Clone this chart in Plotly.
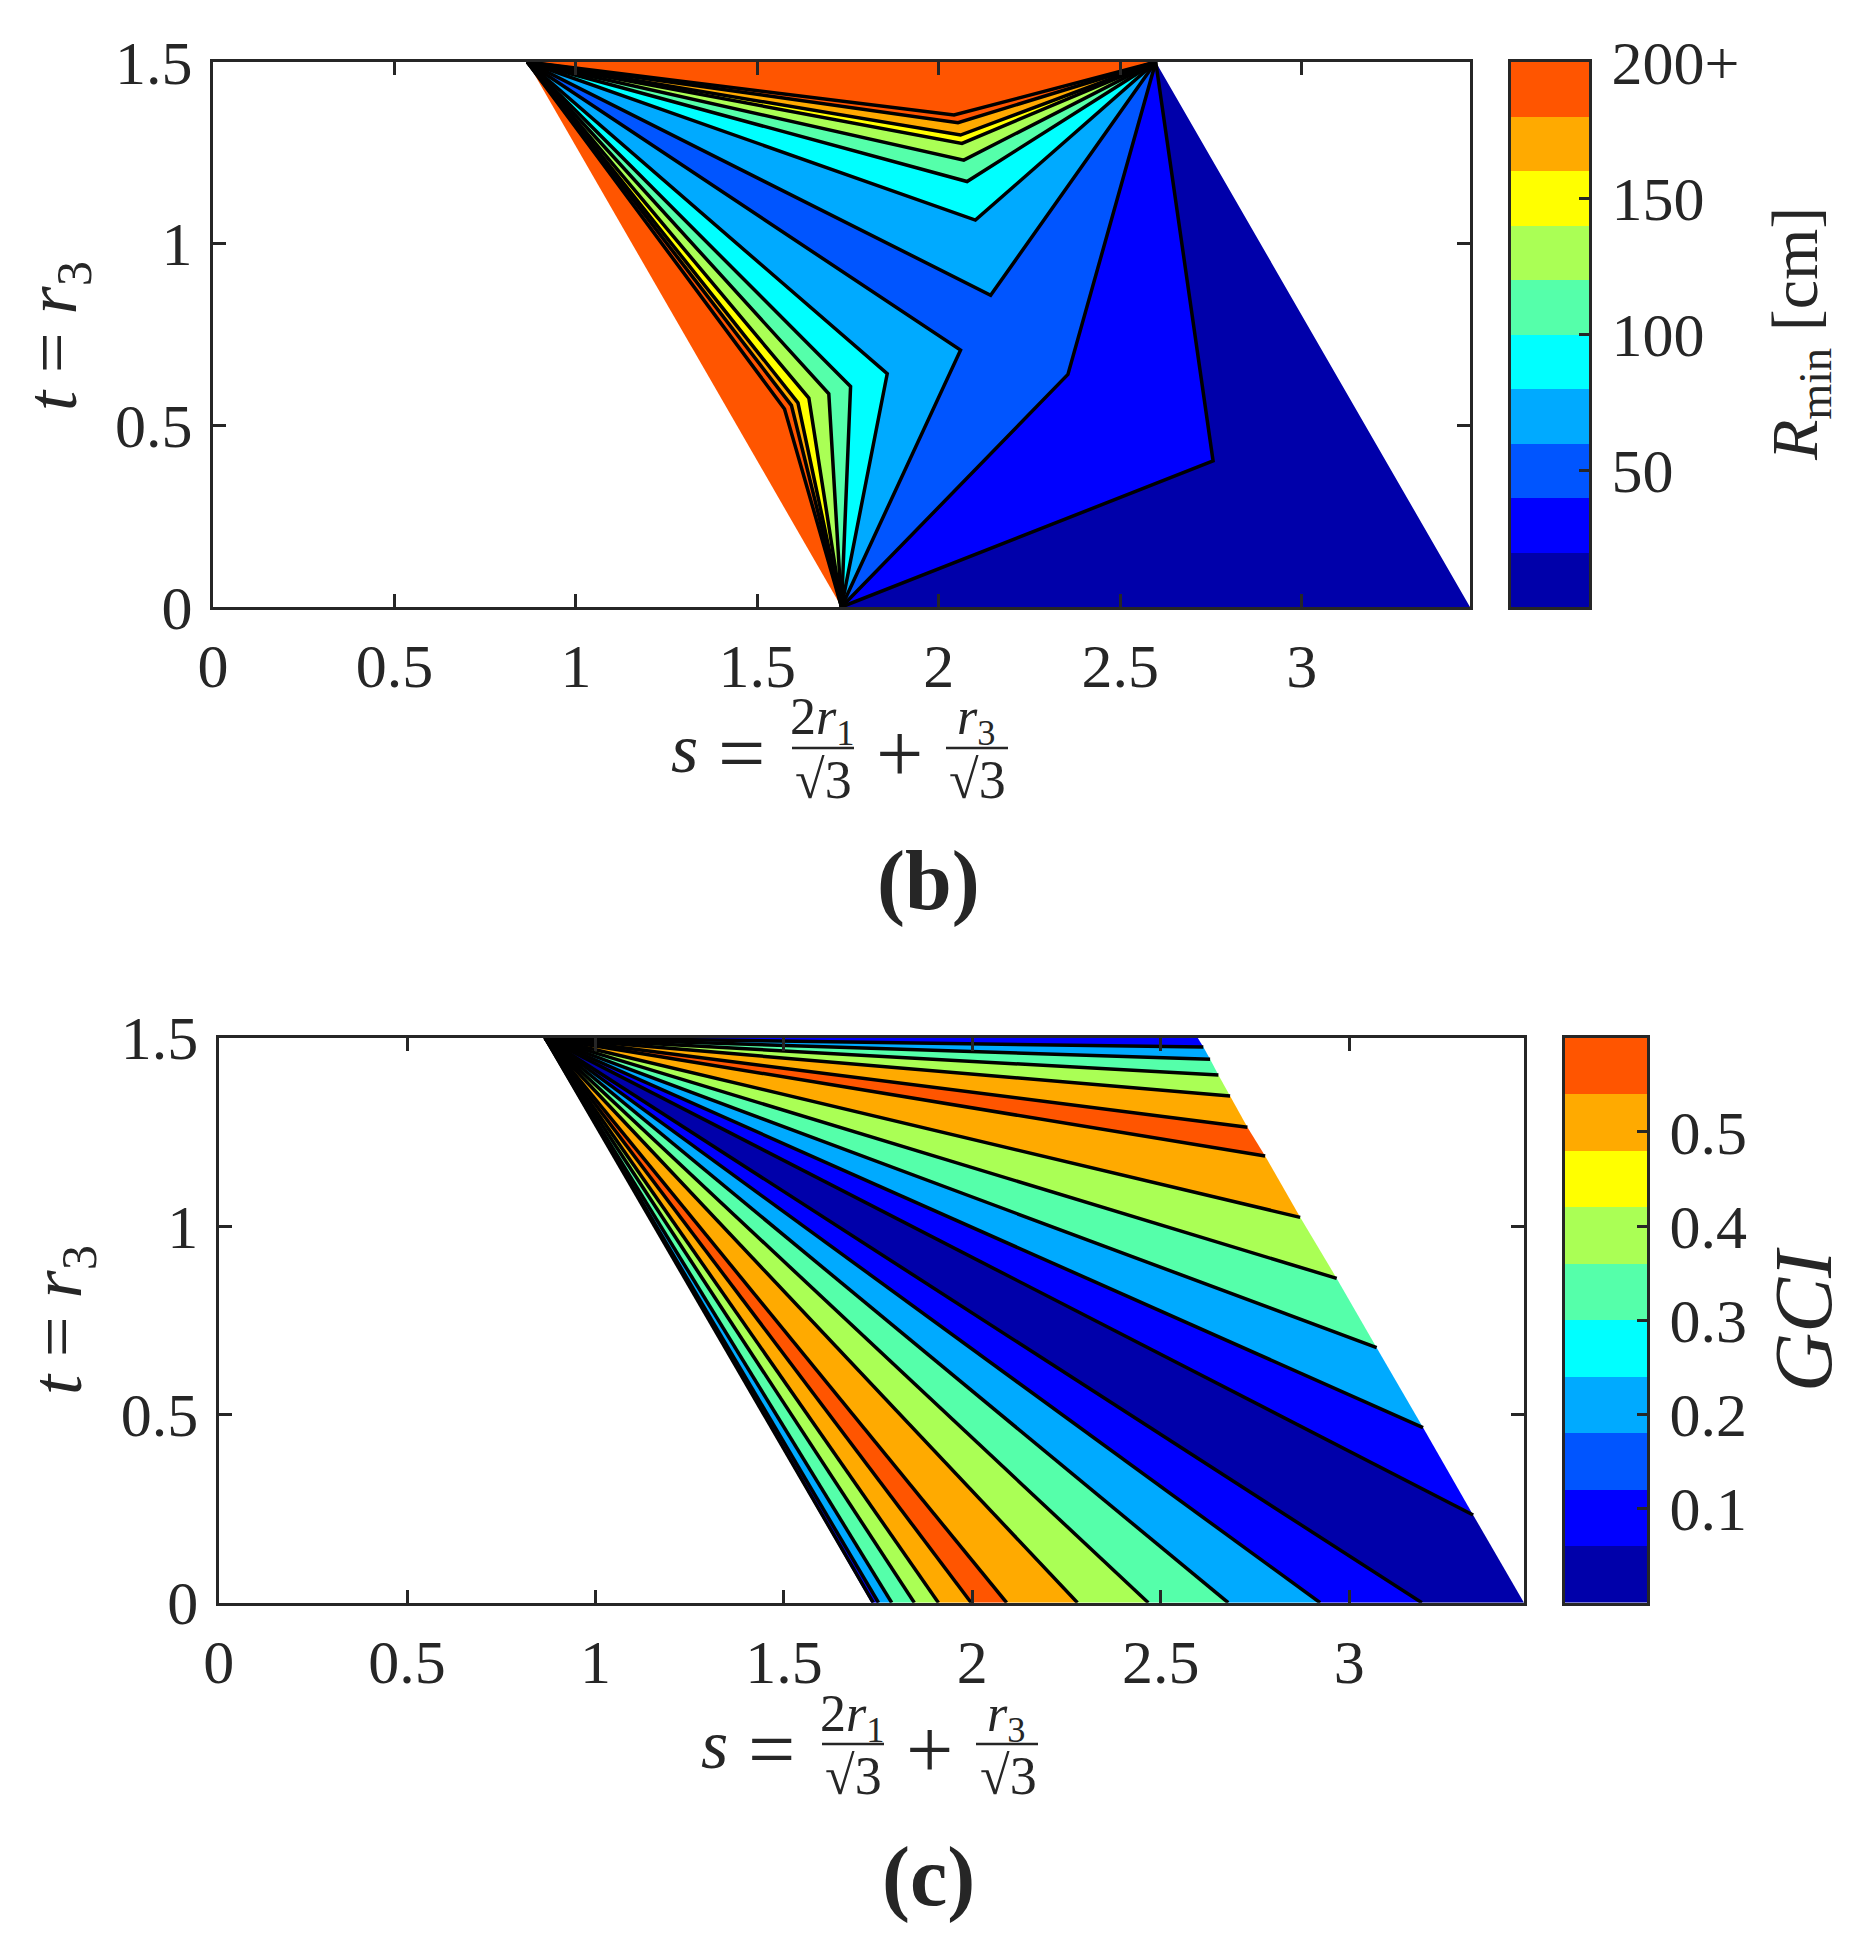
import plotly.graph_objects as go

# page body keeps its default 8px margin, so the figure is drawn 8px in
OFF = 8
W, H = 1862 - OFF, 1946 - OFF
FONT = "Liberation Serif"
INK = "#262626"

# MATLAB jet(10) colormap used by both panels
JET10 = ["#0000AA", "#0000FF", "#0055FF", "#00AAFF", "#00FFFF",
         "#55FFAA", "#AAFF55", "#FFFF00", "#FFAA00", "#FF5500"]

# ---------------- Panel (b): R_min [cm] ----------------
b_range = [0, 200]
b_cbar_levels = [0, 20, 40, 60, 80, 100, 120, 140, 160, 180, 200]
b_cbar_ticks = [50, 100, 150, 200]
b_cbar_text = ["50", "100", "150", "200+"]

# vertices of the (s, t) domain
b_A = (0.866, 1.5)   # top-left apex
b_B = (2.598, 1.5)   # top-right apex
b_C = (1.732, 0.0)   # bottom apex
b_D = (3.464, 0.0)   # bottom-right corner

# contour lines A -> bend -> B
b_up_levels = [60, 80, 100, 120, 140, 160, 180, 200]
b_up_s = [2.143, 2.101, 2.078, 2.069, 2.064, 2.060, 2.053, 2.042]
b_up_t = [0.858, 1.065, 1.171, 1.230, 1.276, 1.299, 1.333, 1.354]
# contour lines A -> bend -> C
b_left_levels = [60, 80, 100, 120, 140, 160, 180, 200]
b_left_s = [2.060, 1.858, 1.757, 1.697, 1.642, 1.612, 1.594, 1.575]
b_left_t = [0.707, 0.642, 0.607, 0.587, 0.575, 0.562, 0.555, 0.545]
# contour lines C -> bend -> B
b_right_levels = [20, 40]
b_right_s = [2.756, 2.356]
b_right_t = [0.402, 0.640]

# ---------------- Panel (c): GCI ----------------
c_range = [0, 0.6]
c_cbar_levels = [0.0, 0.06, 0.12, 0.18, 0.24, 0.30, 0.36, 0.42, 0.48, 0.54, 0.60]
c_cbar_ticks = [0.1, 0.2, 0.3, 0.4, 0.5]
c_cbar_text = ["0.1", "0.2", "0.3", "0.4", "0.5"]

c_A = (0.866, 1.5)   # apex where all contour lines meet
c_C = (1.732, 0.0)
c_D = (3.464, 0.0)
c_B = (2.598, 1.5)
# end points of the contour lines on the bottom edge (t = 0)
c_bottom_s = [1.737, 1.751, 1.786, 1.846, 1.910, 1.997, 2.091, 2.279,
              2.467, 2.679, 2.923, 3.193]
# end points of the contour lines on the right edge
c_right_s = [3.329, 3.196, 3.073, 2.967, 2.870, 2.777, 2.730, 2.684,
             2.653, 2.631, 2.613]
c_right_t = [0.233, 0.465, 0.677, 0.861, 1.023, 1.186, 1.262, 1.345,
             1.401, 1.443, 1.475]
# lower contour level of each filled band, in boundary order
c_band_gci = [0.0, 0.1, 0.2, 0.3, 0.4, 0.5, 0.6, 0.5, 0.4, 0.3, 0.2, 0.1,
              0.0, 0.1, 0.2, 0.3, 0.4, 0.5, 0.6, 0.5, 0.4, 0.3, 0.2, 0.1]

s_ticks = [0, 0.5, 1, 1.5, 2, 2.5, 3]
s_tick_text = ["0", "0.5", "1", "1.5", "2", "2.5", "3"]
t_ticks = [0, 0.5, 1, 1.5]
t_tick_text = ["0", "0.5", "1", "1.5"]


def band_color(v, rng):
    idx = int((v - rng[0]) / (rng[1] - rng[0]) * len(JET10) + 1e-9)
    return JET10[max(0, min(len(JET10) - 1, idx))]


def discrete_scale():
    n = len(JET10)
    scale = []
    for i, c in enumerate(JET10):
        scale.append([i / n, c])
        scale.append([(i + 1) / n, c])
    return scale


def px_x(px):
    return (px - OFF) / W


def px_y(py):
    return 1 - (py - OFF) / H


fig = go.Figure()


def add_fill(points, color, xa, ya):
    xs = [p[0] for p in points] + [points[0][0]]
    ys = [p[1] for p in points] + [points[0][1]]
    fig.add_trace(go.Scatter(x=xs, y=ys, mode="lines", fill="toself",
                             fillcolor=color, line=dict(width=0, color=color),
                             hoverinfo="skip", showlegend=False,
                             xaxis=xa, yaxis=ya))


def add_line(points, xa, ya):
    fig.add_trace(go.Scatter(x=[p[0] for p in points], y=[p[1] for p in points],
                             mode="lines", line=dict(color="black", width=3.5),
                             hoverinfo="skip", showlegend=False,
                             xaxis=xa, yaxis=ya))


# ----- panel (b) regions -----
U = {lv: (s, t) for lv, s, t in zip(b_up_levels, b_up_s, b_up_t)}
L = {lv: (s, t) for lv, s, t in zip(b_left_levels, b_left_s, b_left_t)}
R = {lv: (s, t) for lv, s, t in zip(b_right_levels, b_right_s, b_right_t)}
lv_lo, lv_mid = b_right_levels
first_up = b_up_levels[0]

b_regions = []
b_regions.append((0, [b_C, b_D, b_B, R[lv_lo]]))
b_regions.append((lv_lo, [b_C, R[lv_lo], b_B, R[lv_mid]]))
b_regions.append((lv_mid, [b_C, R[lv_mid], b_B, U[first_up], b_A, L[first_up]]))
for lo, hi in zip(b_up_levels[:-1], b_up_levels[1:]):
    b_regions.append((lo, [b_A, U[lo], b_B, U[hi]]))
for lo, hi in zip(b_left_levels[:-1], b_left_levels[1:]):
    b_regions.append((lo, [b_A, L[lo], b_C, L[hi]]))
b_regions.append((b_up_levels[-1], [b_A, U[b_up_levels[-1]], b_B]))
b_regions.append((b_left_levels[-1], [b_A, L[b_left_levels[-1]], b_C]))

for val, pts in b_regions:
    add_fill(pts, band_color(val, b_range), "x", "y")
for lv in b_up_levels:
    add_line([b_A, U[lv], b_B], "x", "y")
for lv in b_left_levels:
    add_line([b_A, L[lv], b_C], "x", "y")
for lv in b_right_levels:
    add_line([b_C, R[lv], b_B], "x", "y")

# ----- panel (c) regions -----
bottom_pts = [(s, 0.0) for s in c_bottom_s]
right_pts = list(zip(c_right_s, c_right_t))
boundary = [c_C] + bottom_pts + [c_D] + right_pts + [c_B]
ray_idx = list(range(1, 1 + len(bottom_pts))) + \
    list(range(2 + len(bottom_pts), 2 + len(bottom_pts) + len(right_pts)))
cuts = [0] + ray_idx + [len(boundary) - 1]
for i, val in enumerate(c_band_gci):
    pts = [c_A] + boundary[cuts[i]:cuts[i + 1] + 1]
    add_fill(pts, band_color(val, c_range), "x2", "y2")
for k in ray_idx:
    add_line([c_A, boundary[k]], "x2", "y2")


# ----- colorbars drawn as one-column heatmaps -----
def add_cbar(levels, rng, xa, ya):
    centers = [(a + b) / 2 for a, b in zip(levels[:-1], levels[1:])]
    fig.add_trace(go.Heatmap(x=[0.5], y=centers, z=[[c] for c in centers],
                             colorscale=discrete_scale(), zmin=rng[0], zmax=rng[1],
                             showscale=False, hoverinfo="skip",
                             xaxis=xa, yaxis=ya))


add_cbar(b_cbar_levels, b_range, "x3", "y3")
add_cbar(c_cbar_levels, c_range, "x4", "y4")

axis_common = dict(showgrid=False, zeroline=False, showline=True, linecolor=INK,
                   linewidth=3, mirror="allticks", ticks="inside", ticklen=13,
                   tickwidth=2.5, tickcolor=INK, automargin=False,
                   tickfont=dict(family=FONT, size=62, color=INK))
cb_x = dict(showgrid=False, zeroline=False, showline=True, linecolor=INK,
            linewidth=3, mirror=True, ticks="", showticklabels=False,
            range=[0, 1], automargin=False, fixedrange=True)
cb_y = dict(showgrid=False, zeroline=False, showline=True, linecolor=INK,
            linewidth=3, mirror=True, ticks="inside", ticklen=10, tickwidth=2.5,
            tickcolor=INK, side="right", automargin=False, ticklabelstandoff=7,
            tickfont=dict(family=FONT, size=62, color=INK))

fig.update_layout(
    width=W, height=H, margin=dict(l=0, r=0, t=0, b=0, pad=0),
    paper_bgcolor="white", plot_bgcolor="white", showlegend=False,
    xaxis=dict(domain=[px_x(213), px_x(1470)], range=[0, b_D[0]], anchor="y",
               tickvals=s_ticks, ticktext=s_tick_text, ticklabelstandoff=3,
               **axis_common),
    yaxis=dict(domain=[px_y(607), px_y(62)], range=[0, b_A[1]], anchor="x",
               tickvals=t_ticks, ticktext=t_tick_text, ticklabelstandoff=5,
               **axis_common),
    xaxis2=dict(domain=[px_x(218.7), px_x(1524)], range=[0, c_D[0]], anchor="y2",
                tickvals=s_ticks, ticktext=s_tick_text, ticklabelstandoff=3,
                **axis_common),
    yaxis2=dict(domain=[px_y(1602.7), px_y(1037.7)], range=[0, c_A[1]], anchor="x2",
                tickvals=t_ticks, ticktext=t_tick_text, ticklabelstandoff=5,
                **axis_common),
    xaxis3=dict(domain=[px_x(1511), px_x(1589)], anchor="y3", **cb_x),
    yaxis3=dict(domain=[px_y(607), px_y(62)], anchor="x3", range=b_range,
                tickvals=b_cbar_ticks, ticktext=b_cbar_text, **cb_y),
    xaxis4=dict(domain=[px_x(1565), px_x(1647)], anchor="y4", **cb_x),
    yaxis4=dict(domain=[px_y(1602.7), px_y(1037.7)], anchor="x4", range=c_range,
                tickvals=c_cbar_ticks, ticktext=c_cbar_text, **cb_y),
)

annotations = []
shapes = []


def ann(text, x, y, size, angle=0):
    annotations.append(dict(text=text, x=px_x(x), y=px_y(y), xref="paper", yref="paper",
                            xanchor="center", yanchor="middle", showarrow=False,
                            textangle=angle, borderpad=0,
                            font=dict(family=FONT, size=size, color=INK)))


def formula(dx, dy):
    ann("<i>s</i>", 684 + dx, 748 + dy, 70)
    ann("=", 741 + dx, 753 + dy, 84)
    ann("2<i>r</i><sub>1</sub>", 822 + dx, 721 + dy, 52)
    shapes.append(dict(type="line", xref="paper", yref="paper",
                       x0=px_x(792 + dx), x1=px_x(854 + dx),
                       y0=px_y(748 + dy), y1=px_y(748 + dy),
                       line=dict(color=INK, width=2.5)))
    ann("√3", 823 + dx, 780 + dy, 54)
    ann("+", 899 + dx, 753 + dy, 84)
    ann("<i>r</i><sub>3</sub>", 976 + dx, 721 + dy, 52)
    shapes.append(dict(type="line", xref="paper", yref="paper",
                       x0=px_x(946 + dx), x1=px_x(1008 + dx),
                       y0=px_y(748 + dy), y1=px_y(748 + dy),
                       line=dict(color=INK, width=2.5)))
    ann("√3", 978 + dx, 780 + dy, 54)


formula(0, 0)
formula(30, 996)
ann("<b>(b)</b>", 928, 881, 84)
ann("<b>(c)</b>", 928, 1877, 84)
ann("<i>t</i> = <i>r</i><sub>3</sub>", 57, 336, 72, -90)
ann("<i>t</i> = <i>r</i><sub>3</sub>", 62, 1320, 72, -90)
ann("<i>R</i><sub>min</sub> [cm]", 1800, 334, 66, -90)
ann("<i>GCI</i>", 1803, 1320, 82, -90)

fig.update_layout(annotations=annotations, shapes=shapes)
fig.write_html("out.html")
